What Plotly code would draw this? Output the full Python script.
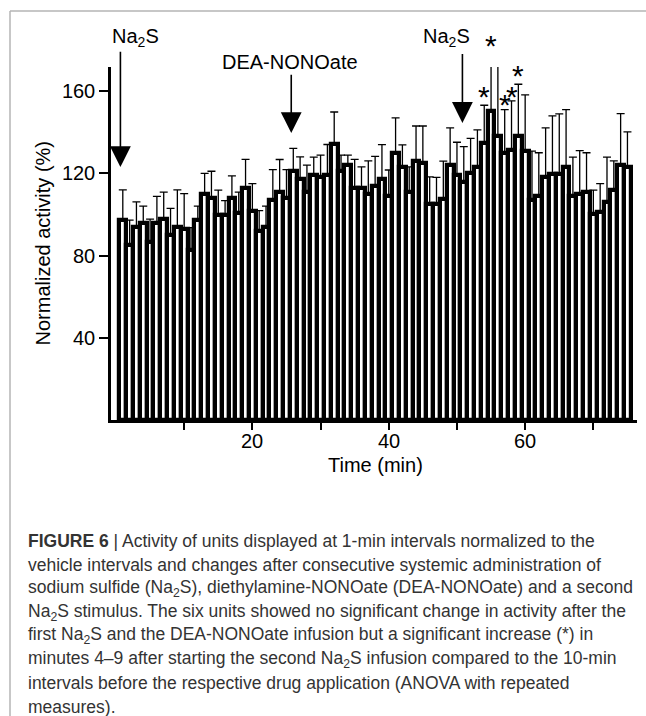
import plotly.graph_objects as go

# ---------------- data ----------------
minutes = list(range(1, 76))
activity = [97.2, 84.9, 93.8, 95.9, 86.6, 95.9, 97.8, 90.2, 93.8, 93.0,
            82.9, 97.2, 109.8, 108.0, 99.8, 99.8, 108.0, 100.9, 112.9, 101.9,
            91.9, 93.8, 106.9, 110.9, 108.0, 121.0, 117.0, 111.0, 119.1, 118.1,
            119.1, 134.1, 120.9, 124.0, 112.9, 112.9, 109.8, 113.9, 117.0, 108.8,
            130.1, 123.1, 110.9, 126.0, 125.0, 105.1, 105.1, 107.7, 124.0, 119.2,
            116.0, 120.0, 123.1, 134.9, 150.1, 138.0, 130.0, 131.2, 138.0, 130.9,
            106.8, 108.9, 118.1, 119.9, 119.9, 123.1, 108.9, 109.8, 110.9, 100.0,
            101.0, 106.0, 111.8, 124.0, 123.0]
sem = [14.7, 12.3, 12.3, 8.1, 11.1, 12.9, 13.0, 12.7, 18.1, 17.1,
       10.7, 6.8, 10.2, 13.0, 12.0, 6.9, 10.7, 9.9, 13.9, 13.1,
       9.9, 10.2, 14.9, 15.8, 13.8, 11.1, 11.0, 13.0, 8.8, 10.7,
       14.9, 15.7, 7.9, 4.8, 13.9, 10.2, 16.2, 14.3, 16.9, 12.8,
       16.9, 10.7, 12.2, 17.0, 18.0, 13.2, 12.9, 18.2, 18.1, 15.9,
       17.0, 17.0, 18.0, 18.2, 29.1, 34.1, 21.0, 24.0, 25.3, 27.2,
       24.0, 21.1, 24.0, 28.0, 29.0, 27.9, 19.0, 21.2, 19.1, 11.8,
       14.0, 21.9, 14.2, 25.0, 17.1]
sem_minus = [0] * len(sem)

# significance markers (*)
star_minutes = [54, 55, 57, 58, 59]
star_levels = [158.7, 183.8, 154.7, 158.7, 169.2]

# drug application events (arrows)
event_labels = ["Na<sub>2</sub>S", "DEA-NONOate", "Na<sub>2</sub>S"]
event_times = [0.65, 25.7, 50.8]
event_tip = [123.0, 139.6, 144.5]
event_tail = [179.8, 168.6, 178.8]
label_x = [2.79, 25.5, 48.4]
label_y = [186.1, 174.0, 186.1]

x_tickvals = [10, 20, 30, 40, 50, 60, 70]
x_ticklabels = ["", "20", "", "40", "", "60", ""]
y_tickvals = [40, 80, 120, 160]

X_RANGE = [-0.73, 76.4]
Y_RANGE = [0, 171.7]

caption_lines = [
    "<b>FIGURE 6</b> | Activity of units displayed at 1-min intervals normalized to the",
    "vehicle intervals and changes after consecutive systemic administration of",
    "sodium sulfide (Na<sub>2</sub>S), diethylamine-NONOate (DEA-NONOate) and a second",
    "Na<sub>2</sub>S stimulus. The six units showed no significant change in activity after the",
    "first Na<sub>2</sub>S and the DEA-NONOate infusion but a significant increase (*) in",
    "minutes 4\u20139 after starting the second Na<sub>2</sub>S infusion compared to the 10-min",
    "intervals before the respective drug application (ANOVA with repeated",
    "measures).",
]

# ---------------- layout geometry ----------------
W, H = 646, 716
ML, MR, MT, MB = 111, 9, 67, 296
PW = W - ML - MR
PH = H - MT - MB
PX_PER_UNIT_Y = PH / (Y_RANGE[1] - Y_RANGE[0])


def px_to_paper_x(px):
    return (px - ML) / PW


def px_to_paper_y(py):
    return (H - MB - py) / PH


def data_to_paper_x(v):
    return (v - X_RANGE[0]) / (X_RANGE[1] - X_RANGE[0])


def data_to_paper_y(v):
    return (v - Y_RANGE[0]) / (Y_RANGE[1] - Y_RANGE[0])


FONT = "Liberation Sans, Arial, sans-serif"

fig = go.Figure()
fig.add_trace(go.Bar(
    x=minutes, y=activity, width=1.0,
    marker=dict(color="white", line=dict(color="black", width=4.2)),
    error_y=dict(type="data", symmetric=False, array=sem, arrayminus=sem_minus,
                 color="black", thickness=1.3, width=4),
    hoverinfo="x+y",
))

annotations = []
# arrows
for t, tip, tail in zip(event_times, event_tip, event_tail):
    annotations.append(dict(
        x=data_to_paper_x(t), y=data_to_paper_y(tip),
        ax=0, ay=-(tail - tip) * PX_PER_UNIT_Y,
        xref="paper", yref="paper", axref="pixel", ayref="pixel",
        text="", showarrow=True, arrowhead=2, arrowsize=2.6, arrowwidth=1.6,
        arrowcolor="black",
    ))
# event labels
for lab, lx, ly in zip(event_labels, label_x, label_y):
    annotations.append(dict(
        x=data_to_paper_x(lx), y=data_to_paper_y(ly), xref="paper", yref="paper",
        text=lab, showarrow=False,
        font=dict(family=FONT, size=20, color="black"),
        xanchor="center", yanchor="middle",
    ))
# stars
for sm, sl in zip(star_minutes, star_levels):
    annotations.append(dict(
        x=data_to_paper_x(sm), y=data_to_paper_y(sl), xref="paper", yref="paper",
        text="*", showarrow=False,
        font=dict(family=FONT, size=30, color="black"),
        xanchor="center", yanchor="middle", yshift=-3,
    ))
# x tick labels
for tv, tl in zip(x_tickvals, x_ticklabels):
    if tl:
        annotations.append(dict(
            x=data_to_paper_x(tv), y=px_to_paper_y(441.5), xref="paper", yref="paper",
            text=tl, showarrow=False,
            font=dict(family=FONT, size=20, color="black"),
            xanchor="center", yanchor="middle",
        ))
# axis titles
annotations.append(dict(
    x=px_to_paper_x(42), y=px_to_paper_y(243.5), xref="paper", yref="paper",
    text="Normalized activity (%)", textangle=-90, showarrow=False,
    font=dict(family=FONT, size=20, color="black"),
    xanchor="center", yanchor="middle",
))
annotations.append(dict(
    x=px_to_paper_x(375.5), y=px_to_paper_y(465), xref="paper", yref="paper",
    text="Time (min)", showarrow=False,
    font=dict(family=FONT, size=20, color="black"),
    xanchor="center", yanchor="middle",
))
# caption
cap_y0, cap_dy = 541, 23.7
for i, line in enumerate(caption_lines):
    annotations.append(dict(
        x=px_to_paper_x(26), y=px_to_paper_y(cap_y0 + i * cap_dy),
        xref="paper", yref="paper", text=line, showarrow=False,
        font=dict(family=FONT, size=17.5, color="#333333"),
        xanchor="left", yanchor="middle",
    ))

shapes = [
    dict(type="line", xref="paper", yref="paper",
         x0=px_to_paper_x(10), x1=px_to_paper_x(W + 5),
         y0=px_to_paper_y(11), y1=px_to_paper_y(11),
         line=dict(color="#b5b5b5", width=1.5)),
    dict(type="line", xref="paper", yref="paper",
         x0=px_to_paper_x(10), x1=px_to_paper_x(10),
         y0=px_to_paper_y(11), y1=px_to_paper_y(H + 5),
         line=dict(color="#b5b5b5", width=1.5)),
]

fig.update_layout(
    width=W, height=H,
    margin=dict(l=ML, r=MR, t=MT, b=MB),
    paper_bgcolor="white", plot_bgcolor="white",
    showlegend=False, bargap=0,
    annotations=annotations, shapes=shapes,
    font=dict(family=FONT, size=20, color="black"),
    xaxis=dict(range=X_RANGE, showgrid=False, zeroline=False,
               showline=True, linecolor="black", linewidth=2.5,
               ticks="outside", ticklen=7, tickwidth=2, tickcolor="black",
               tickvals=x_tickvals, showticklabels=False),
    yaxis=dict(range=Y_RANGE, showgrid=False, zeroline=False,
               showline=True, linecolor="black", linewidth=2.5,
               ticks="outside", ticklen=9, tickwidth=2, tickcolor="black",
               tickvals=y_tickvals,
               tickfont=dict(family=FONT, size=20, color="black")),
)

fig.write_html("out.html")
